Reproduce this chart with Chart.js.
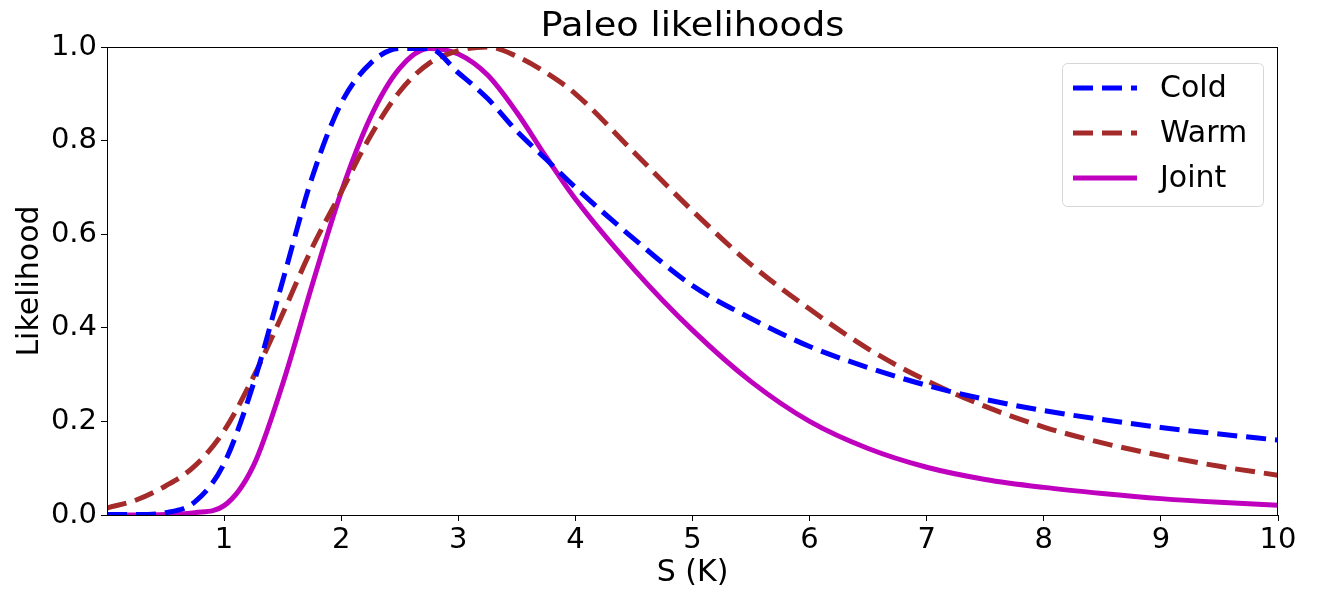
<!DOCTYPE html>
<html>
<head>
<meta charset="utf-8">
<script src="https://cdn.jsdelivr.net/npm/chart.js@4.4.0/dist/chart.umd.min.js"></script>
<style>
  html, body { margin: 0; padding: 0; background: #fff; }
  #wrap { width: 1317px; height: 594px; }
</style>
</head>
<body>
<div id="wrap"><canvas id="paleoChart" width="1317" height="594"></canvas></div>
<script>
// Climate sensitivity S (K) sample points
const sValues = [0, 0.25, 0.5, 0.75, 1, 1.25, 1.5, 1.75, 2, 2.25, 2.5, 2.75, 3, 3.25, 3.5, 3.75, 4, 4.5, 5, 5.5, 6, 6.5, 7, 7.5, 8, 8.5, 9, 9.5, 10];

// Likelihoods
const coldValues  = [0.001, 0.001, 0.005, 0.028, 0.11, 0.28, 0.50, 0.72, 0.88, 0.965, 0.997, 0.997, 0.945, 0.89, 0.82, 0.76, 0.70, 0.59, 0.49, 0.42, 0.36, 0.315, 0.277, 0.247, 0.223, 0.204, 0.187, 0.173, 0.16];
const warmValues  = [0.015, 0.032, 0.062, 0.105, 0.18, 0.295, 0.43, 0.57, 0.69, 0.81, 0.905, 0.965, 0.992, 1.0, 0.98, 0.945, 0.90, 0.775, 0.65, 0.535, 0.44, 0.355, 0.287, 0.232, 0.188, 0.154, 0.127, 0.104, 0.085];
const jointValues = [0.0, 0.0, 0.001, 0.005, 0.02, 0.105, 0.28, 0.49, 0.69, 0.85, 0.955, 0.997, 0.985, 0.94, 0.86, 0.765, 0.675, 0.525, 0.395, 0.285, 0.2, 0.142, 0.102, 0.076, 0.059, 0.046, 0.035, 0.027, 0.021];

const xTicks = [1, 2, 3, 4, 5, 6, 7, 8, 9, 10];
const yTicks = [0.0, 0.2, 0.4, 0.6, 0.8, 1.0];

const FONT = '"DejaVu Sans", sans-serif';

function toPoints(values) {
    return sValues.map((s, i) => ({ x: s, y: values[i] }));
}

// Title, frame and in-plot legend, matplotlib style
const paleoDecor = {
    id: 'paleoDecor',
    afterDraw(chart) {
        const ctx = chart.ctx;
        const area = chart.chartArea;
        ctx.save();

        // top and right spines
        ctx.strokeStyle = '#000';
        ctx.lineWidth = 1;
        ctx.strokeRect(area.left + 0.5, area.top + 0.5, area.right - area.left - 1, area.bottom - area.top);

        // title (slightly wide, like the reference)
        ctx.save();
        ctx.fillStyle = '#000';
        ctx.font = '34px ' + FONT;
        ctx.textAlign = 'center';
        ctx.textBaseline = 'alphabetic';
        ctx.translate((area.left + area.right) / 2, 36);
        ctx.scale(1.08, 1);
        ctx.fillText('Paleo likelihoods', 0, 0);
        ctx.restore();

        // legend box
        const bx = 1062, by = 63, bw = 201, bh = 143;
        ctx.fillStyle = 'rgba(255,255,255,0.8)';
        ctx.strokeStyle = '#d6d6d6';
        ctx.lineWidth = 1;
        ctx.beginPath();
        ctx.roundRect(bx + 0.5, by + 0.5, bw, bh, 5);
        ctx.fill();
        ctx.stroke();

        ctx.font = '30px ' + FONT;
        ctx.textAlign = 'left';
        ctx.textBaseline = 'middle';
        chart.data.datasets.forEach((ds, i) => {
            const yy = 88 + i * 45;
            ctx.strokeStyle = ds.borderColor;
            ctx.lineWidth = ds.borderWidth;
            ctx.setLineDash(ds.borderDash || []);
            ctx.beginPath();
            ctx.moveTo(1073, yy);
            ctx.lineTo(1137, yy);
            ctx.stroke();
            ctx.setLineDash([]);
            ctx.fillStyle = '#000';
            ctx.fillText(ds.label, 1160, yy + 1);
        });
        ctx.restore();
    }
};

new Chart(document.getElementById('paleoChart'), {
    type: 'line',
    data: {
        datasets: [
            {
                label: 'Cold',
                data: toPoints(coldValues),
                borderColor: '#0000ff',
                borderWidth: 5,
                borderDash: [20, 9],
                pointRadius: 0,
                fill: false,
                cubicInterpolationMode: 'monotone'
            },
            {
                label: 'Warm',
                data: toPoints(warmValues),
                borderColor: '#a52a2a',
                borderWidth: 5,
                borderDash: [20, 9],
                pointRadius: 0,
                fill: false,
                cubicInterpolationMode: 'monotone'
            },
            {
                label: 'Joint',
                data: toPoints(jointValues),
                borderColor: '#bf00bf',
                borderWidth: 5,
                pointRadius: 0,
                fill: false,
                cubicInterpolationMode: 'monotone'
            }
        ]
    },
    options: {
        responsive: false,
        animation: false,
        events: [],
        layout: { padding: { top: 47, right: 39, left: 0, bottom: 0 } },
        plugins: {
            legend: { display: false },
            title: { display: false },
            tooltip: { enabled: false }
        },
        scales: {
            x: {
                type: 'linear',
                min: 0,
                max: 10,
                afterBuildTicks: (scale) => { scale.ticks = xTicks.map(v => ({ value: v })); },
                afterFit: (scale) => { scale.height = 79; },
                ticks: {
                    color: '#000',
                    font: { family: FONT, size: 29 },
                    padding: 2,
                    maxRotation: 0,
                    callback: (v) => String(v)
                },
                grid: { drawOnChartArea: false, tickLength: 6, color: '#000', tickWidth: 1 },
                border: { display: true, color: '#000', width: 1 },
                title: {
                    display: true,
                    text: 'S (K)',
                    color: '#000',
                    font: { family: FONT, size: 30 },
                    padding: { top: 0, bottom: 3 }
                }
            },
            y: {
                type: 'linear',
                min: 0,
                max: 1,
                afterBuildTicks: (scale) => { scale.ticks = yTicks.map(v => ({ value: v })); },
                afterFit: (scale) => { scale.width = 107; },
                ticks: {
                    color: '#000',
                    font: { family: FONT, size: 29 },
                    padding: 4,
                    callback: (v) => v.toFixed(1)
                },
                grid: { drawOnChartArea: false, tickLength: 6, color: '#000', tickWidth: 1 },
                border: { display: true, color: '#000', width: 1 },
                title: {
                    display: true,
                    text: 'Likelihood',
                    color: '#000',
                    font: { family: FONT, size: 30 },
                    padding: { top: 12, bottom: 0 }
                }
            }
        }
    },
    plugins: [paleoDecor]
});
</script>
</body>
</html>
